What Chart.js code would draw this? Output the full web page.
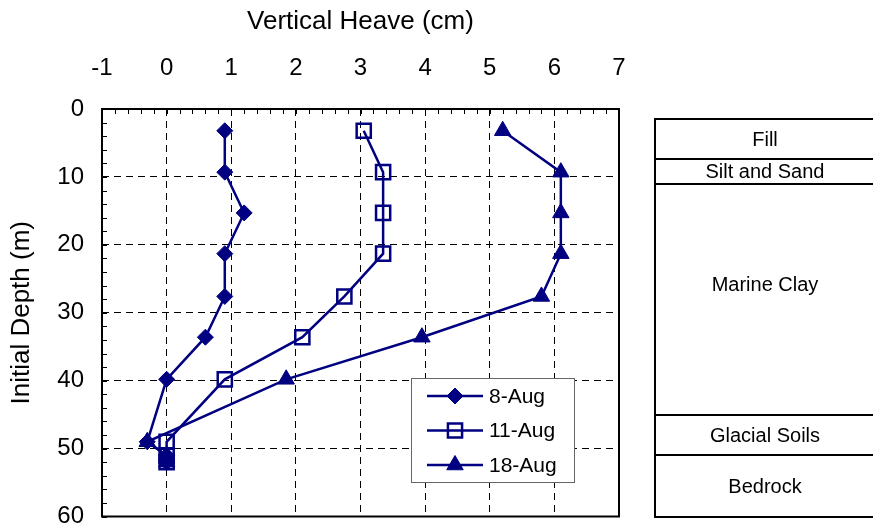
<!DOCTYPE html>
<html>
<head>
<meta charset="utf-8">
<script src="https://cdn.jsdelivr.net/npm/chart.js@4.4.0/dist/chart.umd.min.js"></script>
<style>
  html, body { margin: 0; padding: 0; background: #fff; }
</style>
</head>
<body>
<canvas id="chart" width="873" height="529"></canvas>
<script>
// depth of each reading (m) and heave (cm) per survey date
const depths = [3.2, 9.3, 15.3, 21.3, 27.6, 33.6, 39.8, 49, 51, 52];
const heave8Aug = [0.9, 0.9, 1.2, 0.9, 0.9, 0.6, 0, -0.3, 0, 0];
const heave11Aug = [3.05, 3.35, 3.35, 3.35, 2.75, 2.1, 0.9, 0, 0, 0];
const heave18Aug = [5.2, 6.1, 6.1, 6.1, 5.8, 3.95, 1.85, -0.3, 0, 0];
const seriesNames = ["8-Aug", "11-Aug", "18-Aug"];

// soil profile (m)
const layerNames = ["Fill", "Silt and Sand", "Marine Clay", "Glacial Soils", "Bedrock"];
const layerTop = [1.5, 7.4, 11, 45, 51];
const layerBottom = [7.4, 11, 45, 51, 60];
const layerLabelDepth = [4.5, 9.2, 25.8, 48, 55.6];

const NAVY = "#000080";
const FONT = "'Liberation Sans', Arial, sans-serif";

function toPoints(xs) {
  return xs.map((v, i) => ({ x: v, y: depths[i] }));
}

const styles = [
  { pointStyle: "rectRot", pointRadius: 8, backgroundColor: NAVY, borderWidth: 1 },
  { pointStyle: "rect", pointRadius: 10, backgroundColor: "rgba(0,0,0,0)", borderWidth: 2.5 },
  { pointStyle: "triangle", pointRadius: 9.5, backgroundColor: NAVY, borderWidth: 1 },
];
const values = [heave8Aug, heave11Aug, heave18Aug];

const datasets = values.map((v, i) => ({
  label: seriesNames[i],
  data: toPoints(v),
  showLine: true,
  borderColor: NAVY,
  borderWidth: 2.5,
  pointStyle: styles[i].pointStyle,
  pointRadius: styles[i].pointRadius,
  pointHoverRadius: styles[i].pointRadius,
  pointBackgroundColor: styles[i].backgroundColor,
  pointBorderColor: NAVY,
  pointBorderWidth: styles[i].borderWidth,
  backgroundColor: styles[i].backgroundColor,
}));

const frameAndExtras = {
  id: "frameAndExtras",
  afterDatasetsDraw(chart) {
    const { ctx, chartArea: a, scales } = chart;
    const x = scales.x, y = scales.y;
    ctx.save();

    // plot frame
    ctx.strokeStyle = "#000";
    ctx.lineWidth = 2;
    ctx.strokeRect(a.left, a.top, a.right - a.left, a.bottom - a.top);

    // inward minor ticks on top and left edges
    ctx.lineWidth = 1;
    ctx.beginPath();
    for (let i = 0; i <= 40; i++) {
      const px = Math.round(x.getPixelForValue(-1 + i * 0.2)) + 0.5;
      ctx.moveTo(px, a.top);
      ctx.lineTo(px, a.top + 5);
    }
    for (let i = 0; i <= 30; i++) {
      const py = Math.round(y.getPixelForValue(i * 2)) + 0.5;
      ctx.moveTo(a.left, py);
      ctx.lineTo(a.left + 5, py);
    }
    ctx.stroke();

    // legend box inside plot
    const lx = 411, ly = 378, lw = 163, lh = 104;
    ctx.fillStyle = "#fff";
    ctx.fillRect(lx, ly, lw, lh);
    ctx.strokeStyle = "#666";
    ctx.lineWidth = 1;
    ctx.strokeRect(lx + 0.5, ly + 0.5, lw, lh);
    ctx.font = "21px " + FONT;
    ctx.textBaseline = "middle";
    ctx.textAlign = "left";
    chart.data.datasets.forEach((ds, i) => {
      const cy = 396 + i * 34.5;
      ctx.strokeStyle = NAVY;
      ctx.lineWidth = 2.5;
      ctx.beginPath();
      ctx.moveTo(427, cy);
      ctx.lineTo(483, cy);
      ctx.stroke();
      ctx.fillStyle = ds.pointBackgroundColor;
      ctx.lineWidth = ds.pointBorderWidth;
      Chart.helpers.drawPoint(ctx, {
        pointStyle: ds.pointStyle,
        radius: ds.pointRadius,
        rotation: 0,
        borderWidth: ds.pointBorderWidth,
      }, 455, cy);
      ctx.fillStyle = "#000";
      ctx.fillText(ds.label, 489, cy + 1);
    });

    // soil profile column
    const colLeft = 655, colRight = 885;
    ctx.strokeStyle = "#000";
    ctx.lineWidth = 2;
    ctx.font = "20px " + FONT;
    ctx.textAlign = "center";
    layerNames.forEach((name, i) => {
      const t = Math.round(y.getPixelForValue(layerTop[i]));
      const b = Math.round(y.getPixelForValue(layerBottom[i]));
      ctx.strokeRect(colLeft, t, colRight - colLeft, b - t);
      ctx.fillStyle = "#000";
      ctx.fillText(name, 765, y.getPixelForValue(layerLabelDepth[i]) + 1);
    });

    ctx.restore();
  },
};

new Chart(document.getElementById("chart"), {
  type: "scatter",
  data: { datasets },
  options: {
    responsive: false,
    animation: false,
    devicePixelRatio: 1,
    layout: { padding: { left: 0, top: 0, right: 254, bottom: 12 } },
    plugins: {
      legend: { display: false },
      tooltip: { enabled: false },
    },
    scales: {
      x: {
        type: "linear",
        position: "top",
        min: -1,
        max: 7,
        afterFit(s) {
          s.height = 109;
          s.paddingLeft = 0;
          s.paddingRight = 0;
        },
        ticks: {
          stepSize: 1,
          padding: 26,
          color: "#000",
          font: { family: FONT, size: 24 },
        },
        grid: {
          drawTicks: false,
          color: (c) => (c.tick && (c.tick.value === -1 || c.tick.value === 7)) ? "rgba(0,0,0,0)" : "#000",
          lineWidth: 1,
        },
        border: { display: false, dash: [7, 5] },
        title: {
          display: true,
          text: "Vertical Heave (cm)",
          color: "#000",
          font: { family: FONT, size: 26 },
          padding: { top: 6, bottom: 0 },
        },
      },
      y: {
        type: "linear",
        position: "left",
        reverse: true,
        min: 0,
        max: 60,
        afterFit(s) {
          s.width = 102;
          s.paddingTop = 0;
          s.paddingBottom = 0;
        },
        ticks: {
          stepSize: 10,
          padding: 18,
          color: "#000",
          font: { family: FONT, size: 24 },
        },
        grid: {
          drawTicks: false,
          color: (c) => (c.tick && (c.tick.value === 0 || c.tick.value === 60)) ? "rgba(0,0,0,0)" : "#000",
          lineWidth: 1,
        },
        border: { display: false, dash: [7, 5] },
        title: {
          display: true,
          text: "Initial Depth (m)",
          color: "#000",
          font: { family: FONT, size: 26 },
          padding: { top: 6, bottom: 0 },
        },
      },
    },
  },
  plugins: [frameAndExtras],
});
</script>
</body>
</html>
